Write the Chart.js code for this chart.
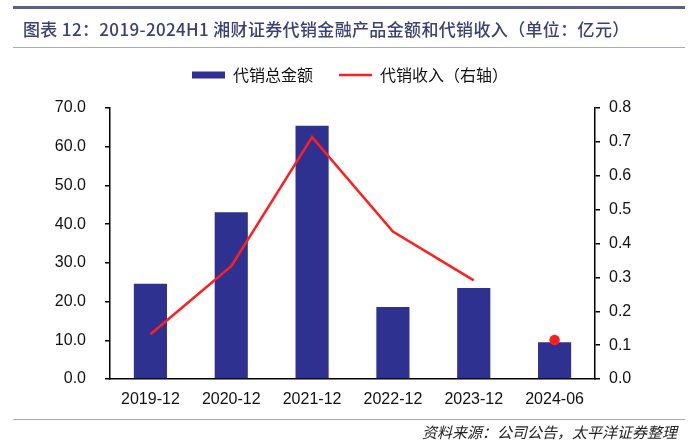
<!DOCTYPE html>
<html>
<head>
<meta charset="utf-8">
<script src="https://cdn.jsdelivr.net/npm/chart.js@4.4.1/dist/chart.umd.min.js"></script>
<style>
  html, body { margin: 0; padding: 0; background: #fff; }
  #wrap { position: relative; width: 700px; height: 444px; overflow: hidden; }
  #chart { position: absolute; left: 0; top: 0; }
  .rule { position: absolute; left: 13px; width: 672px; }
  #topRule { top: 6px; height: 3px; background: #5b5f90; }
  #midRule { top: 47px; height: 1px; background: #a7a9c6; }
  #botRule { top: 419px; height: 1px; background: #a7a9c6; }
  #title {
    position: absolute; left: 23px; top: 16px;
    font-family: "Noto Sans CJK SC", sans-serif; font-size: 17px; font-weight: 500;
    color: #3c4079; white-space: nowrap; letter-spacing: 0.35px;
  }
  #source {
    position: absolute; right: 23px; top: 421px;
    font-family: "Noto Sans CJK SC", serif; font-size: 15px; font-style: italic;
    color: #222; white-space: nowrap;
  }
</style>
</head>
<body>
<div id="wrap">
  <canvas id="chart" width="700" height="444"></canvas>
  <div class="rule" id="topRule"></div>
  <div class="rule" id="midRule"></div>
  <div class="rule" id="botRule"></div>
  <div id="title">图表 12：2019-2024H1 湘财证券代销金融产品金额和代销收入（单位：亿元）</div>
  <div id="source">资料来源：公司公告，太平洋证券整理</div>
</div>
<script>
// data
const periods = ['2019-12', '2020-12', '2021-12', '2022-12', '2023-12', '2024-06'];
const salesAmount = [24.6, 43.1, 65.4, 18.6, 23.5, 9.5];      // 代销总金额 (left axis)
const salesIncome = [0.132, 0.333, 0.714, 0.435, 0.291, 0.115]; // 代销收入 (right axis)
const leftTicks = [0, 10, 20, 30, 40, 50, 60, 70];
const rightTicks = [0, 0.1, 0.2, 0.3, 0.4, 0.5, 0.6, 0.7, 0.8];

const barColor = '#2e3190';
const lineColor = '#ff1f1f';
const tickFont = { family: '"Liberation Sans", Arial, sans-serif', size: 16 };

// extra space under the legend, before the plot starts
const legendSpacer = {
    id: 'legendSpacer',
    beforeInit(chart) {
        const fit = chart.legend.fit;
        chart.legend.fit = function () {
            fit.call(this);
            this.height += 15;
        };
    }
};

const ctx = document.getElementById('chart').getContext('2d');
new Chart(ctx, {
    data: {
        labels: periods,
        datasets: [
            {
                type: 'line',
                label: '代销收入（右轴）',
                data: salesIncome,
                yAxisID: 'yRight',
                borderColor: lineColor,
                backgroundColor: lineColor,
                borderWidth: 2.5,
                tension: 0,
                pointRadius: salesIncome.map((v, i) => i === salesIncome.length - 1 ? 4 : 0),
                pointHoverRadius: 0,
                // the half-year point is shown alone, not joined to the line
                segment: {
                    borderColor: c => c.p1DataIndex === salesIncome.length - 1 ? 'rgba(0,0,0,0)' : lineColor
                },
                order: 0
            },
            {
                type: 'bar',
                label: '代销总金额',
                data: salesAmount,
                yAxisID: 'yLeft',
                backgroundColor: barColor,
                barPercentage: 0.41,
                categoryPercentage: 1,
                order: 1
            }
        ]
    },
    plugins: [legendSpacer],
    options: {
        responsive: false,
        animation: false,
        layout: { padding: { top: 41, left: 0, right: 0, bottom: 0 } },
        plugins: {
            tooltip: { enabled: false },
            legend: {
                position: 'top',
                reverse: true,
                labels: {
                    font: { family: '"Noto Sans CJK SC", sans-serif', size: 16 },
                    color: '#111',
                    usePointStyle: true,
                    pointStyleWidth: 33,
                    boxHeight: 7,
                    padding: 26,
                    generateLabels: chart => {
                        const items = Chart.defaults.plugins.legend.labels.generateLabels(chart);
                        items.forEach(item => {
                            const ds = chart.data.datasets[item.datasetIndex];
                            if (ds.type === 'line') {
                                item.pointStyle = 'line';
                                item.strokeStyle = lineColor;
                                item.lineWidth = 2.5;
                            } else {
                                item.pointStyle = 'rect';
                                item.lineWidth = 0;
                            }
                        });
                        return items;
                    }
                }
            }
        },
        scales: {
            x: {
                grid: { display: false, drawTicks: false },
                border: { display: true, color: '#000', width: 1.5 },
                ticks: { font: tickFont, color: '#111', padding: 11 },
                afterFit: s => { s.height = 65; }
            },
            yLeft: {
                position: 'left',
                min: 0, max: 70,
                afterBuildTicks: s => { s.ticks = leftTicks.map(v => ({ value: v })); },
                grid: { drawOnChartArea: false, drawTicks: true, tickLength: 5, color: '#000', lineWidth: 1.5 },
                border: { display: true, color: '#000', width: 1.5 },
                ticks: { font: tickFont, color: '#111', padding: 19, callback: v => v.toFixed(1) },
                afterFit: s => { s.width = 110; }
            },
            yRight: {
                position: 'right',
                min: 0, max: 0.8,
                afterBuildTicks: s => { s.ticks = rightTicks.map(v => ({ value: v })); },
                grid: { drawOnChartArea: false, drawTicks: true, tickLength: 5, color: '#000', lineWidth: 1.5 },
                border: { display: true, color: '#000', width: 1.5 },
                ticks: { font: tickFont, color: '#111', padding: 9, callback: v => v.toFixed(1) },
                afterFit: s => { s.width = 105; }
            }
        }
    }
});
</script>
</body>
</html>
